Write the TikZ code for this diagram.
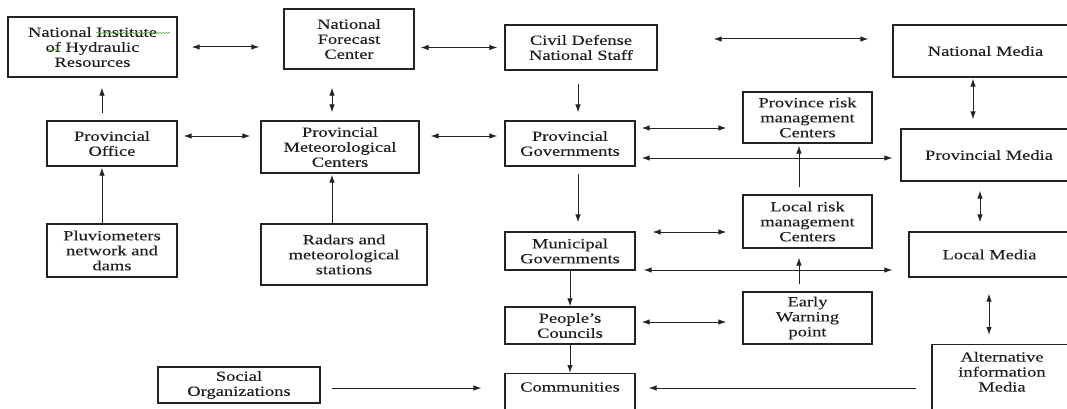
\documentclass[tikz,border=0pt]{standalone}
\usepackage{fontspec}
\setmainfont{Liberation Serif}[FakeStretch=1.32, FakeBold=0.15]
\usepackage{tikz}
\usetikzlibrary{positioning,arrows.meta,calc,decorations.pathmorphing}
\definecolor{ewLine}{RGB}{35,35,35}
\definecolor{ewText}{RGB}{30,30,30}
\definecolor{ewWave}{RGB}{95,170,80}

\begin{document}
\begin{tikzpicture}[x=1pt, y=-1pt,
  box/.style={draw=ewLine, line width=1.2pt, align=center, inner sep=3pt,
    font=\fontsize{14}{15}\selectfont, text=ewText},
  arr/.style={-{Latex[length=8pt,width=5.5pt]}, line width=1pt, ewLine},
  biarr/.style={{Latex[length=8pt,width=5.5pt]}-{Latex[length=8pt,width=5.5pt]}, line width=1pt, ewLine}]
  \useasboundingbox (0,0) rectangle (1067,409);
  \clip (0,0) rectangle (1067,409);

  % National level
  \node[box, minimum width=169pt, minimum height=60pt] (nihr) at (92.5,47) {National Institute\\of Hydraulic\\Resources};
  \node[box, minimum width=130pt, minimum height=60pt] (nfc) at (349,39) {National\\Forecast\\Center};
  \node[box, minimum width=152pt, minimum height=45pt] (cd) at (581,47.5) {Civil Defense\\National Staff};
  \node[box, minimum width=185pt, minimum height=52pt] (natmedia) at (985.5,51) {National Media};

  % Province level
  \node[box, minimum width=130pt, minimum height=45pt] (po) at (112,143.5) {Provincial\\Office};
  \node[box, minimum width=158pt, minimum height=52pt] (pmc) at (340,147) {Provincial\\Meteorological\\Centers};
  \node[box, minimum width=130pt, minimum height=45pt] (pg) at (570,143.5) {Provincial\\Governments};
  \node[box, minimum width=129pt, minimum height=51pt] (prisk) at (807.5,117.5) {Province risk\\management\\Centers};
  \node[box, minimum width=176pt, minimum height=52pt] (provmedia) at (989,155) {Provincial Media};

  % Local level
  \node[box, minimum width=130pt, minimum height=53pt] (pluv) at (112,250.5) {Pluviometers\\network and\\dams};
  \node[box, minimum width=166pt, minimum height=61pt] (radar) at (344,254.5) {Radars and\\meteorological\\stations};
  \node[box, minimum width=129pt, minimum height=53pt] (lrisk) at (807.5,221.5) {Local risk\\management\\Centers};
  \node[box, minimum width=130pt, minimum height=38pt] (mg) at (570,251) {Municipal\\Governments};
  \node[box, minimum width=161pt, minimum height=45pt] (localmedia) at (989.5,254.5) {Local Media};
  \node[box, minimum width=129pt, minimum height=52pt] (ew) at (807.5,318) {Early\\Warning\\point};
  \node[box, minimum width=130pt, minimum height=37pt] (pc) at (570,325.5) {People’s\\Councils};

  % Community level (boxes run off the page)
  \node[box, minimum width=130pt, text height=14pt, text depth=40pt, inner ysep=4pt, anchor=north] (comm) at (570,373) {Communities};
  \node[box, minimum width=140pt, text height=43pt, text depth=40pt, inner ysep=4pt, anchor=north] (altmedia) at (1002,344) {Alternative\\information\\Media};
  \node[box, minimum width=162pt, minimum height=36pt] (soc) at (239,385) {Social\\Organizations};

  % spell-check marks
  \draw[ewWave, line width=0.6pt, decorate, decoration={snake, amplitude=0.7pt, segment length=3pt}] (96,33) -- (170,33);
  \draw[ewWave, line width=0.6pt, decorate, decoration={snake, amplitude=0.7pt, segment length=3pt}] (48,50) -- (59,50);

  % Top row links
  \draw[biarr] ($(nihr.east)+(14,0)$) -- ($(nihr.east -| nfc.west)+(-24,0)$);
  \draw[biarr] ($(cd.west -| nfc.east)+(6,0)$) -- ($(cd.west)+(-7,0)$);
  \draw[biarr] ($(cd.east)+(56,-8.5)$) -- ($(natmedia.west)+(-24,-12)$);

  % Hydro-meteorological side
  \draw[arr] ($(po.north)+(-10,-7)$) -- ($(po.north |- nihr.south)+(-10,10)$);
  \draw[biarr] ($(nfc.south)+(-17,18)$) -- ($(pmc.north)+(-8,-8)$);
  \draw[biarr] ($(po.east)+(6,-7.5)$) -- ($(pmc.west)+(-10,-11)$);
  \draw[biarr] ($(pmc.east)+(11,-11)$) -- ($(pg.west)+(-7,-7.5)$);
  \draw[arr] ($(pluv.north)+(-10,0)$) -- ($(po.south)+(-10,1)$);
  \draw[arr] ($(radar.north)+(-12,0)$) -- ($(pmc.south)+(-8,1)$);

  % Government chain
  \draw[arr] ($(cd.south)+(-3,13)$) -- ($(cd.south |- pg.north)+(-3,-8)$);
  \draw[arr] ($(pg.south)+(8,7)$) -- ($(mg.north)+(8,-9)$);
  \draw[arr] (mg.south) -- (pc.north);
  \draw[arr] (pc.south) -- (comm.north);

  % Risk management centers
  \draw[biarr] ($(pg.east)+(6,-15.5)$) -- ($(prisk.west)+(-16,10.5)$);
  \draw[arr] ($(lrisk.north)+(-8.5,-7)$) -- ($(prisk.south)+(-8.5,2)$);
  \draw[biarr] ($(mg.east)+(17,-19)$) -- ($(lrisk.west)+(-16,10.5)$);
  \draw[arr] ($(ew.north)+(-8.5,-7)$) -- ($(lrisk.south)+(-8.5,9)$);
  \draw[biarr] ($(pc.east)+(6,-3.5)$) -- ($(ew.west)+(-16,4)$);

  % Media chain
  \draw[biarr] ($(pg.east)+(6,14.5)$) -- ($(provmedia.west)+(-8,3)$);
  \draw[biarr] ($(mg.east)+(8,19)$) -- ($(localmedia.west)+(-16,15.5)$);
  \draw[biarr] ($(natmedia.south)+(-12.5,1)$) -- ($(natmedia.south |- provmedia.north)+(-12.5,-9)$);
  \draw[biarr] ($(provmedia.south)+(-9,9)$) -- ($(localmedia.north)+(-9.5,-9)$);
  \draw[biarr] ($(localmedia.south)+(-0.5,16)$) -- ($(altmedia.north)+(-13,-9)$);

  % Into the communities
  \draw[arr] ($(altmedia.north west)+(-15,44)$) -- ($(comm.north east)+(13,15)$);
  \draw[arr] ($(soc.east)+(11,3)$) -- ($(comm.north west)+(-23,15)$);
\end{tikzpicture}
\end{document}
